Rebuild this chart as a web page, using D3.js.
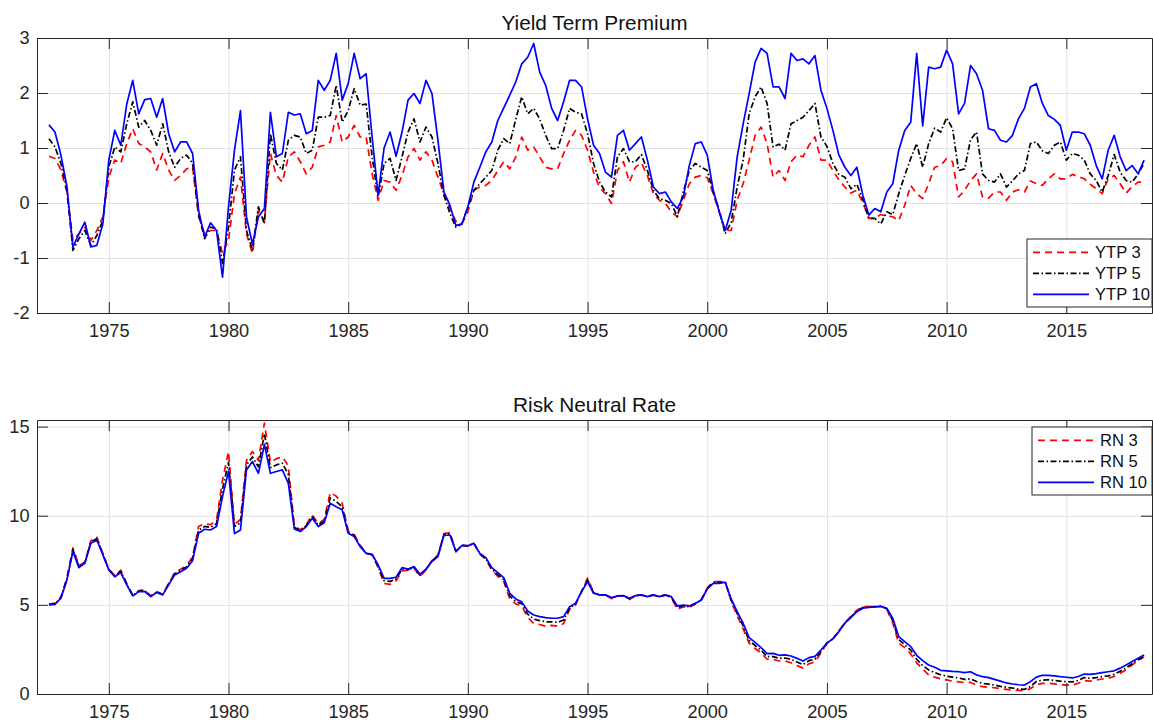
<!DOCTYPE html>
<html>
<head>
<meta charset="utf-8">
<script src="https://cdn.jsdelivr.net/npm/d3@7"></script>
<style>
    body { margin: 0; background: #fff; }
    svg { display: block; font-family: "Liberation Sans", Arial, Helvetica, sans-serif; }
</style>
</head>
<body>
<svg id="chart" width="1153" height="721"></svg>
<script>
// quarterly observations, 1972.5 .. 2018.25
const dates = d3.range(1972.5, 2018.3, 0.25);
const yearTicks = [1975, 1980, 1985, 1990, 1995, 2000, 2005, 2010, 2015];
const premiumTicks = [-2, -1, 0, 1, 2, 3];
const neutralTicks = [0, 5, 10, 15];

const ytp3 = [
    0.85, 0.81,
    0.6, 0.2, -0.68, -0.56,
    -0.44, -0.68, -0.5, -0.25,
    0.47, 0.78, 0.72, 1.08,
    1.35, 1.08, 1.02, 0.93,
    0.6, 0.9, 0.6, 0.41,
    0.5, 0.62, 0.65, -0.25,
    -0.56, -0.5, -0.5, -0.92,
    -0.68, 0.17, 0.47, -0.56,
    -0.92, -0.13, -0.32, 0.9,
    0.5, 0.38, 0.84, 0.93,
    0.75, 0.53, 0.65, 1.02,
    1.05, 1.11, 1.59, 1.11,
    1.2, 1.41, 1.2, 1.2,
    0.53, 0.05, 0.41, 0.38,
    0.23, 0.5, 0.84, 0.99,
    0.78, 0.93, 0.78, 0.47,
    0.16, -0.1, -0.33, -0.38,
    -0.16, 0.23, 0.29, 0.32,
    0.41, 0.59, 0.75, 0.62,
    0.84, 1.2, 0.96, 1.02,
    0.84, 0.65, 0.62, 0.62,
    0.9, 1.14, 1.32, 1.23,
    0.96, 0.56, 0.28, 0.17,
    -0.01, 0.59, 0.75, 0.38,
    0.65, 0.73, 0.5, 0.17,
    0.05, -0.01, -0.16, -0.25,
    0.05, 0.35, 0.47, 0.5,
    0.46, 0.17, -0.16, -0.5,
    -0.5, 0.05, 0.35, 0.78,
    1.23, 1.38, 1.08, 0.47,
    0.59, 0.41, 0.75, 0.87,
    0.84, 1.05, 1.2, 0.78,
    0.78, 0.59, 0.42, 0.29,
    0.18, 0.23, 0.0, -0.28,
    -0.28, -0.21, -0.24, -0.25,
    -0.32, -0.04, 0.32, 0.17,
    0.08, 0.35, 0.65, 0.68,
    0.81, 0.75, 0.11, 0.23,
    0.41, 0.53, 0.11, 0.09,
    0.2, 0.2, 0.05, 0.2,
    0.24, 0.2, 0.4, 0.35,
    0.32, 0.44, 0.53, 0.44,
    0.44, 0.52, 0.48, 0.44,
    0.34, 0.26, 0.17, 0.44,
    0.5, 0.35, 0.18, 0.3,
    0.38, 0.38
];

const ytp5 = [
    1.17, 1.02,
    0.72, 0.23, -0.86, -0.65,
    -0.5, -0.77, -0.59, -0.32,
    0.65, 1.02, 0.93, 1.44,
    1.84, 1.38, 1.5, 1.32,
    1.05, 1.44, 0.93, 0.65,
    0.81, 0.87, 0.72, -0.19,
    -0.65, -0.44, -0.47, -1.1,
    -0.44, 0.6, 0.84, -0.5,
    -0.86, -0.07, -0.38, 1.26,
    0.72, 0.6, 1.14, 1.23,
    1.2, 0.9, 0.96, 1.56,
    1.56, 1.59, 2.14, 1.47,
    1.68, 2.08, 1.78, 1.8,
    0.84, 0.11, 0.72, 0.81,
    0.41, 0.84, 1.29, 1.53,
    1.11, 1.38, 1.2, 0.72,
    0.14, -0.19, -0.44, -0.38,
    -0.07, 0.23, 0.35, 0.47,
    0.59, 0.96, 1.17, 1.08,
    1.52, 1.93, 1.62, 1.72,
    1.53, 1.23, 0.99, 0.99,
    1.32, 1.72, 1.65, 1.62,
    1.26, 0.72, 0.38, 0.2,
    0.11, 0.84, 0.99, 0.75,
    0.75, 0.88, 0.59, 0.23,
    0.08, 0.05, -0.01, -0.25,
    0.2, 0.59, 0.72, 0.65,
    0.59, 0.2, -0.13, -0.56,
    -0.35, 0.29, 0.78, 1.62,
    1.93, 2.11, 1.81, 1.02,
    1.07, 0.96, 1.44, 1.5,
    1.56, 1.68, 1.81, 1.2,
    1.03, 0.72, 0.52, 0.47,
    0.26, 0.34, 0.06, -0.28,
    -0.28, -0.38, -0.16, -0.21,
    0.17, 0.5, 0.81, 1.08,
    0.65, 1.08, 1.36, 1.29,
    1.55, 1.35, 0.59, 0.62,
    1.15, 1.29, 0.53, 0.41,
    0.38, 0.53, 0.29, 0.4,
    0.53, 0.59, 1.08, 1.11,
    0.95, 0.9, 1.05, 1.11,
    0.78, 0.9, 0.87, 0.78,
    0.53, 0.41, 0.2, 0.5,
    0.88, 0.56, 0.41, 0.38,
    0.53, 0.72
];

const ytp10 = [
    1.42, 1.29,
    0.87, 0.3, -0.8, -0.56,
    -0.35, -0.8, -0.77, -0.38,
    0.78, 1.32, 1.05, 1.8,
    2.23, 1.62, 1.88, 1.9,
    1.56, 1.9, 1.26, 0.93,
    1.11, 1.11, 0.9, -0.13,
    -0.62, -0.36, -0.5, -1.35,
    -0.07, 0.96, 1.68, -0.25,
    -0.75, -0.25, -0.1, 1.65,
    0.84, 0.9, 1.65, 1.6,
    1.62, 1.26, 1.32, 2.23,
    2.05, 2.23, 2.72, 1.87,
    2.17, 2.72, 2.26, 2.35,
    1.2, 0.15, 1.0, 1.29,
    0.85, 1.29, 1.87, 1.99,
    1.81, 2.23, 1.99, 1.14,
    0.2, -0.04, -0.41, -0.38,
    -0.07, 0.38, 0.65, 0.93,
    1.11, 1.5, 1.73, 1.96,
    2.2, 2.53, 2.65, 2.9,
    2.38, 2.14, 1.72, 1.5,
    1.84, 2.23, 2.23, 2.11,
    1.53, 1.05, 0.9, 0.56,
    0.47, 1.23, 1.32, 0.96,
    1.08, 1.2, 0.78, 0.29,
    0.17, 0.2, 0.02, -0.1,
    0.11, 0.68, 1.08, 1.11,
    0.87, 0.23, -0.16, -0.5,
    -0.13, 0.84, 1.44, 1.99,
    2.56, 2.81, 2.72, 2.11,
    2.11, 1.9, 2.72, 2.59,
    2.62, 2.53, 2.68, 2.05,
    1.72, 1.32, 0.87, 0.65,
    0.5, 0.65, 0.14, -0.22,
    -0.1, -0.16, 0.2, 0.35,
    0.96, 1.32, 1.47, 2.72,
    1.4, 2.47, 2.44, 2.47,
    2.78, 2.53, 1.62, 1.81,
    2.5, 2.35, 2.05, 1.35,
    1.32, 1.14, 1.11, 1.23,
    1.53, 1.72, 2.11, 2.17,
    1.81, 1.59, 1.52, 1.41,
    0.96, 1.29, 1.29, 1.26,
    1.05, 0.68, 0.44, 0.96,
    1.23, 0.84, 0.59, 0.68,
    0.53, 0.78
];

const rn3 = [
    5.05, 5.1,
    5.45, 6.5, 8.2, 7.2,
    7.4, 8.6, 8.8, 7.9,
    7.0, 6.65, 6.95, 6.2,
    5.55, 5.8, 5.85, 5.5,
    5.75, 5.6, 6.2, 6.8,
    7.0, 7.2, 7.7, 9.4,
    9.55, 9.5, 9.75, 12.0,
    13.6, 9.5, 9.8, 13.1,
    13.6, 13.1, 15.2, 13.0,
    13.2, 13.3, 12.8, 9.45,
    9.2, 9.5, 10.05, 9.55,
    9.8, 11.3, 11.1, 10.7,
    9.15, 8.95, 8.35, 7.9,
    7.8, 7.1, 6.2, 6.15,
    6.35, 6.9, 6.95, 7.05,
    6.6, 6.95, 7.5, 7.8,
    9.0, 9.05, 8.0, 8.35,
    8.3, 8.45, 7.85, 7.55,
    6.95, 6.6, 6.3, 5.35,
    5.05, 4.95, 4.3, 3.95,
    3.9, 3.8, 3.85, 3.8,
    3.95, 4.75, 5.0, 5.75,
    6.5, 5.7, 5.55, 5.55,
    5.35, 5.5, 5.5, 5.3,
    5.5, 5.55, 5.45, 5.55,
    5.45, 5.55, 5.4, 4.75,
    4.9, 4.85, 5.05, 5.3,
    5.95, 6.3, 6.3, 6.3,
    5.2, 4.4, 3.65, 2.85,
    2.55, 2.3, 1.95, 1.95,
    1.85, 1.85, 1.75, 1.6,
    1.45, 1.7, 1.8, 2.3,
    2.85, 3.1, 3.55, 4.0,
    4.35, 4.7, 4.9, 4.9,
    4.9, 4.92, 4.75, 4.0,
    2.85, 2.6, 2.25, 1.75,
    1.4, 1.07, 0.95, 0.85,
    0.79, 0.72, 0.68, 0.64,
    0.65, 0.5, 0.41, 0.38,
    0.35, 0.3, 0.26, 0.22,
    0.2, 0.18, 0.3, 0.52,
    0.6, 0.6, 0.57, 0.53,
    0.5, 0.5, 0.6, 0.76,
    0.72, 0.78, 0.84, 0.88,
    0.98, 1.16, 1.36, 1.63,
    1.87, 2.08
];

const rn5 = [
    5.02, 5.06,
    5.4, 6.45, 8.1, 7.15,
    7.37, 8.52, 8.72, 7.85,
    6.98, 6.62, 6.88, 6.16,
    5.52, 5.77, 5.8, 5.48,
    5.72, 5.58, 6.16, 6.74,
    6.93, 7.12, 7.6, 9.2,
    9.4, 9.35, 9.55, 11.5,
    13.0, 9.4, 9.6, 12.85,
    13.3, 12.75, 14.6, 12.7,
    12.85, 12.95, 12.3, 9.35,
    9.15, 9.45, 9.95, 9.47,
    9.7, 11.0, 10.8, 10.5,
    9.08, 8.9, 8.3, 7.9,
    7.82, 7.17, 6.35, 6.32,
    6.45, 7.0, 6.98, 7.1,
    6.66, 6.98, 7.47, 7.76,
    8.95, 8.99, 8.0, 8.34,
    8.31, 8.45, 7.87, 7.6,
    7.02, 6.7, 6.42, 5.5,
    5.19, 5.07, 4.48, 4.2,
    4.12, 4.05, 4.05, 4.03,
    4.15, 4.82, 5.05, 5.74,
    6.4, 5.68, 5.56, 5.56,
    5.38, 5.5, 5.51, 5.34,
    5.51, 5.56, 5.46, 5.56,
    5.46, 5.56, 5.43, 4.85,
    4.95, 4.9, 5.07, 5.28,
    5.92, 6.26, 6.26, 6.28,
    5.27, 4.52, 3.82, 3.0,
    2.72, 2.45, 2.1, 2.1,
    2.0, 2.02, 1.94, 1.8,
    1.65, 1.87, 1.96, 2.38,
    2.85, 3.1, 3.52, 3.98,
    4.31, 4.66, 4.85, 4.88,
    4.9, 4.92, 4.78, 4.12,
    3.05, 2.77, 2.46, 1.95,
    1.6, 1.35, 1.2, 1.08,
    1.0, 0.95, 0.9, 0.82,
    0.85, 0.7, 0.6, 0.55,
    0.5, 0.43, 0.38, 0.33,
    0.28, 0.26, 0.42, 0.7,
    0.78, 0.8, 0.76, 0.72,
    0.69, 0.68, 0.76, 0.92,
    0.88, 0.92, 0.98, 1.02,
    1.1, 1.28, 1.46, 1.7,
    1.92, 2.12
];

const rn10 = [
    5.0, 5.03,
    5.37, 6.4, 7.99, 7.09,
    7.33, 8.45, 8.64, 7.8,
    6.96, 6.58, 6.81, 6.12,
    5.5, 5.74, 5.74, 5.46,
    5.69, 5.56, 6.12, 6.68,
    6.86, 7.05, 7.48, 9.02,
    9.24, 9.2, 9.39, 11.07,
    12.5, 9.0, 9.2, 12.57,
    13.04, 12.38, 14.0, 12.38,
    12.48, 12.57, 11.82, 9.26,
    9.11, 9.39, 9.86, 9.39,
    9.61, 10.7, 10.51, 10.33,
    9.02, 8.83, 8.27, 7.89,
    7.84, 7.24, 6.49, 6.49,
    6.55, 7.09, 7.01, 7.15,
    6.72, 7.01, 7.43, 7.71,
    8.89, 8.92, 7.99, 8.32,
    8.32, 8.45, 7.89, 7.65,
    7.09, 6.81, 6.53, 5.65,
    5.33, 5.18, 4.66, 4.43,
    4.34, 4.28, 4.25, 4.25,
    4.34, 4.9, 5.09, 5.74,
    6.3, 5.65, 5.56, 5.56,
    5.41, 5.5, 5.52, 5.37,
    5.52, 5.56, 5.46, 5.56,
    5.46, 5.56, 5.46, 4.94,
    4.99, 4.94, 5.09, 5.26,
    5.89, 6.21, 6.21, 6.27,
    5.33, 4.62, 3.97, 3.16,
    2.9, 2.6, 2.26, 2.28,
    2.17, 2.19, 2.13, 2.0,
    1.85, 2.04, 2.11, 2.47,
    2.86, 3.09, 3.5, 3.97,
    4.28, 4.62, 4.81, 4.86,
    4.88, 4.92, 4.81, 4.25,
    3.22, 2.94, 2.66, 2.17,
    1.87, 1.63, 1.5, 1.33,
    1.3, 1.27, 1.25, 1.2,
    1.25, 1.07, 0.97, 0.92,
    0.82, 0.72, 0.62, 0.56,
    0.52, 0.5, 0.69, 0.95,
    1.05, 1.05, 1.02, 0.97,
    0.94, 0.9, 0.98, 1.12,
    1.1, 1.14, 1.2, 1.25,
    1.3, 1.45, 1.63, 1.82,
    2.0, 2.19
];

const premiumNames = ['YTP 3', 'YTP 5', 'YTP 10'];
const neutralNames = ['RN 3', 'RN 5', 'RN 10'];
const lineColors = ['#ff0000', '#000000', '#0000ff'];
const lineDashes = ['7,5', '6,2.5,1.5,2.5', null];

const svg = d3.select('#chart');
const left = 37;
const right = 1152;
const axisColor = '#262626';
const fontStack = '"Liberation Sans", Arial, Helvetica, sans-serif';

function drawPanel(opt) {
    const g = svg.append('g');
    const height = opt.bottom - opt.top;
    const width = right - left;

    const x = d3.scaleLinear().domain([1972, 2018.58]).range([left, right]);
    const y = d3.scaleLinear().domain(opt.yDomain).range([opt.bottom, opt.top]);

    // grid
    g.append('g')
        .attr('transform', `translate(0,${opt.bottom})`)
        .call(d3.axisBottom(x).tickValues(yearTicks).tickSize(-height).tickFormat(''))
        .call(a => a.select('.domain').remove())
        .selectAll('line').attr('stroke', '#e2e2e2');
    g.append('g')
        .attr('transform', `translate(${left},0)`)
        .call(d3.axisLeft(y).tickValues(opt.yTicks).tickSize(-width).tickFormat(''))
        .call(a => a.select('.domain').remove())
        .selectAll('line').attr('stroke', '#e2e2e2');

    const clipId = 'clip-' + opt.id;
    g.append('clipPath').attr('id', clipId)
        .append('rect')
        .attr('x', left).attr('y', opt.top)
        .attr('width', width).attr('height', height);

    const line = d3.line()
        .x((d, i) => x(dates[i]))
        .y(d => y(d));

    const plot = g.append('g').attr('clip-path', `url(#${clipId})`);
    opt.series.forEach((s, i) => {
        plot.append('path')
            .datum(s)
            .attr('fill', 'none')
            .attr('stroke', lineColors[i])
            .attr('stroke-width', 1.7)
            .attr('stroke-dasharray', lineDashes[i])
            .attr('stroke-linejoin', 'round')
            .attr('d', line);
    });

    // box with inward ticks on all four sides
    const styleAxis = a => {
        a.select('.domain').attr('stroke', axisColor);
        a.selectAll('.tick line').attr('stroke', axisColor);
        a.selectAll('.tick text')
            .attr('fill', axisColor)
            .style('font-size', '18.2px')
            .style('font-family', fontStack);
    };

    g.append('g')
        .attr('transform', `translate(0,${opt.bottom})`)
        .call(d3.axisBottom(x).tickValues(yearTicks)
            .tickSizeInner(-11).tickSizeOuter(0).tickPadding(11)
            .tickFormat(d3.format('d')))
        .call(styleAxis);
    g.append('g')
        .attr('transform', `translate(0,${opt.top})`)
        .call(d3.axisTop(x).tickValues(yearTicks)
            .tickSizeInner(-11).tickSizeOuter(0).tickFormat(''))
        .call(styleAxis);
    g.append('g')
        .attr('transform', `translate(${left},0)`)
        .call(d3.axisLeft(y).tickValues(opt.yTicks)
            .tickSizeInner(-11).tickSizeOuter(0).tickPadding(7.5)
            .tickFormat(d => String(d)))
        .call(styleAxis);
    g.append('g')
        .attr('transform', `translate(${right},0)`)
        .call(d3.axisRight(y).tickValues(opt.yTicks)
            .tickSizeInner(-11).tickSizeOuter(0).tickFormat(''))
        .call(styleAxis);

    g.append('text')
        .attr('x', (left + right) / 2)
        .attr('y', opt.top - 8)
        .attr('text-anchor', 'middle')
        .attr('fill', '#111')
        .style('font-size', '20.8px')
        .text(opt.title);

    // legend
    const lg = g.append('g');
    const lx = opt.legendX;
    const ly = opt.legendY;
    lg.append('rect')
        .attr('x', lx).attr('y', ly)
        .attr('width', right - lx).attr('height', 68)
        .attr('fill', '#fff')
        .attr('stroke', axisColor)
        .attr('stroke-width', 1);
    opt.names.forEach((name, i) => {
        const cy = ly + 13.3 + i * 21;
        lg.append('line')
            .attr('x1', lx + 6).attr('x2', lx + 62)
            .attr('y1', cy).attr('y2', cy)
            .attr('stroke', lineColors[i])
            .attr('stroke-width', 1.7)
            .attr('stroke-dasharray', lineDashes[i]);
        lg.append('text')
            .attr('x', lx + 68).attr('y', cy)
            .attr('dy', '0.36em')
            .attr('fill', '#111')
            .style('font-size', '16.6px')
            .text(name);
    });
}

drawPanel({
    id: 'premium',
    top: 38,
    bottom: 313,
    yDomain: [-2, 3],
    yTicks: premiumTicks,
    series: [ytp3, ytp5, ytp10],
    names: premiumNames,
    title: 'Yield Term Premium',
    legendX: 1027,
    legendY: 239
});

drawPanel({
    id: 'neutral',
    top: 420,
    bottom: 694,
    yDomain: [0, 15.37],
    yTicks: neutralTicks,
    series: [rn3, rn5, rn10],
    names: neutralNames,
    title: 'Risk Neutral Rate',
    legendX: 1032,
    legendY: 427
});
</script>
</body>
</html>
